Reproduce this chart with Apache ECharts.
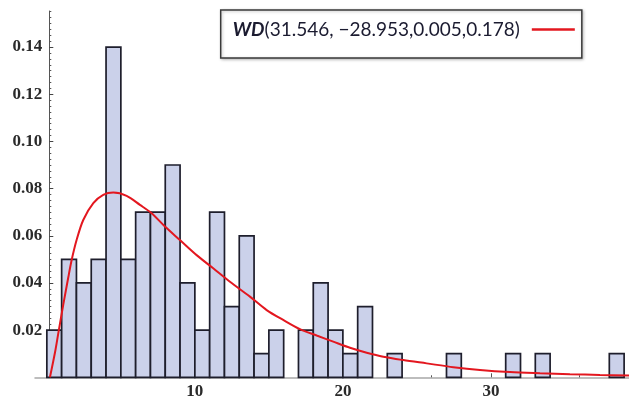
<!DOCTYPE html>
<html><head><meta charset="utf-8">
<script src="https://cdn.jsdelivr.net/npm/echarts@6/dist/echarts.min.js"></script>
<style>html,body{margin:0;padding:0;background:#fff}#c{width:629px;height:402px}</style>
</head><body><div id="c"></div>
<script>
// Histogram bins (width 1)
const binStarts = [0,1,2,3,4,5,6,7,8,9,10,11,12,13,14,15,16,17,18,19,20,21,22,23,24,25,26,27,28,29,30,31,32,33,34,35,36,37,38];
const binWidth = 1;
const binHeights = [0.02,0.05,0.04,0.05,0.14,0.05,0.07,0.07,0.09,0.04,0.02,0.07,0.03,0.06,0.01,0.02,0,0.02,0.04,0.02,0.01,0.03,0,0.01,0,0,0,0.01,0,0,0,0.01,0,0.01,0,0,0,0,0.01];

// Fitted density curve
const curveX = [0.21,0.55,0.77,1.11,1.45,1.68,2.01,2.46,3.14,3.81,4.49,5.39,6.29,7.08,7.98,8.99,10.12,11.24,12.37,13.72,14.85,15.97,17.1,18.23,19.35,20.48,21.61,22.73,24.08,25.66,27.46,29.26,31.29,33.32,35.34,37.37,39.33];
const curveY = [0,0.0105,0.0185,0.0308,0.0424,0.0498,0.0582,0.0667,0.0738,0.0773,0.0783,0.0769,0.0731,0.0696,0.0639,0.0582,0.0518,0.0462,0.0405,0.0342,0.0285,0.0243,0.0204,0.0177,0.0151,0.0125,0.0104,0.0087,0.0073,0.0059,0.0043,0.0031,0.0022,0.0017,0.0013,0.0010,0.0008];

// Tick labels
const yTickLabels = [0.02,0.04,0.06,0.08,0.10,0.12,0.14];
const xTickLabels = [10,20,30];
const xMinorTicks = [2,4,6,8,12,14,16,18,22,24,26,28,32,34,36,38];
const legendName = 'WD(31.546, \u221228.953,0.005,0.178)';

const yMinorTicks = [];
for (let i = 1; i <= 62; i++) { if (i % 8 !== 0) yMinorTicks.push(+(i * 0.0025).toFixed(4)); }

const X_MIN = -0.8, X_MAX = 39.33, Y_MAX = 0.1553;
const labelFont = { fontFamily: 'Liberation Serif', fontSize: 17, fontWeight: 'bold', color: '#2a2a2a' };

const chart = echarts.init(document.getElementById('c'), null, { renderer: 'canvas' });
chart.setOption({
  animation: false,
  backgroundColor: '#fff',
  grid: { left: 35, right: 0, top: 11, bottom: 24.7 },
  legend: {
    show: true,
    data: [{ name: legendName, icon: 'rect' }],
    left: 220.7, top: 10,
    align: 'right',
    itemWidth: 43, itemHeight: 2.5,
    padding: [10, 7, 19, 12],
    borderColor: '#3a3a3a', borderWidth: 1.5,
    backgroundColor: '#fff',
    shadowColor: 'rgba(0,0,0,0.25)', shadowBlur: 3, shadowOffsetX: 1, shadowOffsetY: 1,
    selectedMode: false,
    formatter: name => '{i|' + name.slice(0, 2) + '}{n|' + name.slice(2) + '}',
    textStyle: {
      rich: {
        i: { fontFamily: 'Lato', fontStyle: 'italic', fontWeight: 'bold', fontSize: 19, color: '#1b1b30' },
        n: { fontFamily: 'Lato', fontSize: 19, color: '#1b1b30', padding: [0, 7, 0, 0] }
      }
    }
  },
  xAxis: [
    {
      type: 'value', min: X_MIN, max: X_MAX, position: 'bottom',
      axisLine: { show: true, onZero: false, lineStyle: { color: '#a8a8a8', width: 1.5 } },
      axisTick: { show: true, inside: true, length: 4, customValues: xTickLabels, lineStyle: { color: '#555' } },
      axisLabel: Object.assign({ customValues: xTickLabels, margin: 6 }, labelFont),
      splitLine: { show: false }
    },
    {
      type: 'value', min: X_MIN, max: X_MAX, position: 'bottom',
      axisLine: { show: false },
      axisTick: { show: true, inside: true, length: 2, customValues: xMinorTicks, lineStyle: { color: '#555' } },
      axisLabel: { show: false },
      splitLine: { show: false }
    }
  ],
  yAxis: [
    {
      type: 'value', min: 0, max: Y_MAX, position: 'left', offset: -14.3,
      axisLine: { show: true, onZero: false, lineStyle: { color: '#555', width: 1 } },
      axisTick: { show: true, inside: true, length: 4, customValues: yTickLabels, lineStyle: { color: '#444' } },
      axisLabel: Object.assign({ customValues: yTickLabels, margin: 7, formatter: v => v.toFixed(2) }, labelFont),
      splitLine: { show: false }
    },
    {
      type: 'value', min: 0, max: Y_MAX, position: 'left', offset: -14.3,
      axisLine: { show: false },
      axisTick: { show: true, inside: true, length: 2, customValues: yMinorTicks, lineStyle: { color: '#555' } },
      axisLabel: { show: false },
      splitLine: { show: false }
    }
  ],
  series: [
    {
      type: 'custom',
      xAxisIndex: 0, yAxisIndex: 0,
      z: 2,
      encode: { x: [0, 1], y: 2 },
      data: binStarts.map((s, i) => [s, s + binWidth, binHeights[i]]).filter(d => d[2] > 0),
      renderItem: (params, api) => {
        const p0 = api.coord([api.value(0), 0]);
        const p1 = api.coord([api.value(1), api.value(2)]);
        return {
          type: 'rect',
          shape: { x: p0[0], y: p1[1], width: p1[0] - p0[0], height: p0[1] - p1[1] },
          style: { fill: '#cbd1ea', stroke: '#1e1e2c', lineWidth: 1.7 }
        };
      }
    },
    {
      type: 'line',
      name: legendName,
      xAxisIndex: 0, yAxisIndex: 0,
      z: 3,
      data: curveX.map((x, i) => [x, curveY[i]]),
      smooth: 0.3,
      showSymbol: false,
      symbol: 'none',
      lineStyle: { color: '#e3171f', width: 2 },
      itemStyle: { color: '#e3171f' }
    }
  ]
});
</script>
</body></html>
